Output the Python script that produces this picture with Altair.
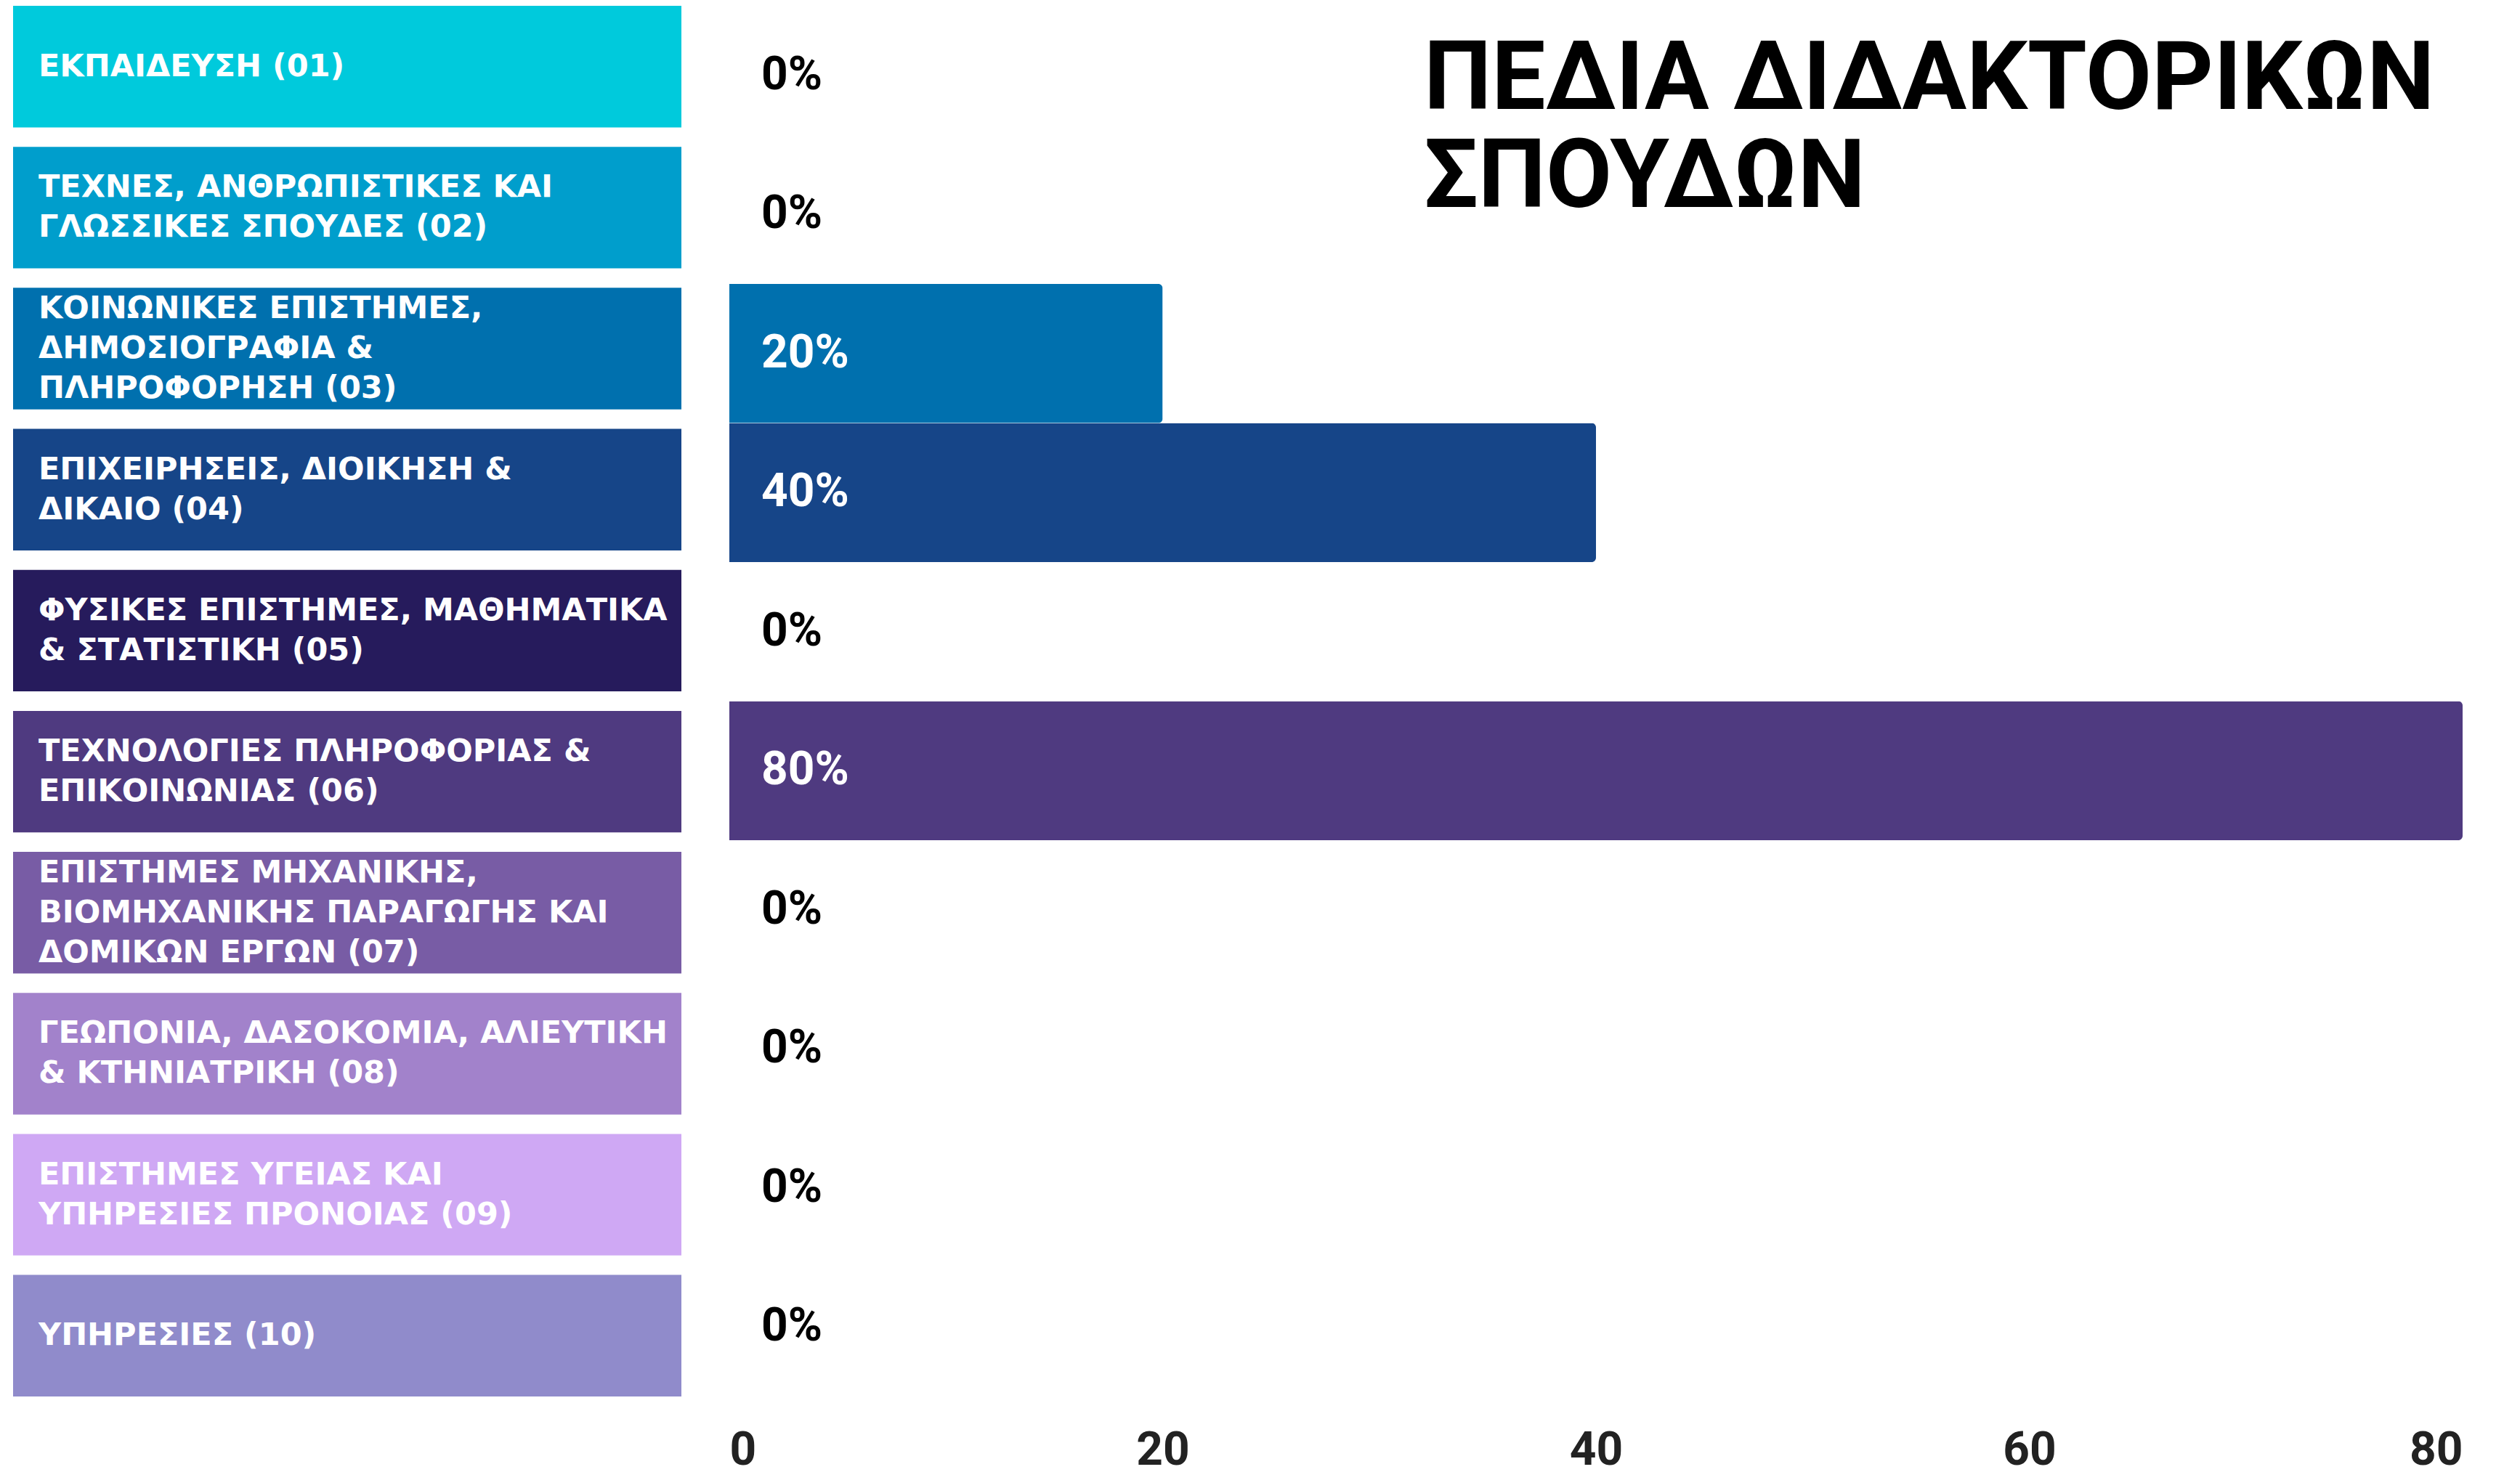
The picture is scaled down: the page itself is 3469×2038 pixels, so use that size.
import altair as alt
import pandas as pd

codes = ["01", "02", "03", "04", "05", "06", "07", "08", "09", "10"]
labels = [
    ["ΕΚΠΑΙΔΕΥΣΗ (01)"],
    ["ΤΕΧΝΕΣ, ΑΝΘΡΩΠΙΣΤΙΚΕΣ ΚΑΙ", "ΓΛΩΣΣΙΚΕΣ ΣΠΟΥΔΕΣ (02)"],
    ["ΚΟΙΝΩΝΙΚΕΣ ΕΠΙΣΤΗΜΕΣ,", "ΔΗΜΟΣΙΟΓΡΑΦΙΑ &", "ΠΛΗΡΟΦΟΡΗΣΗ (03)"],
    ["ΕΠΙΧΕΙΡΗΣΕΙΣ, ΔΙΟΙΚΗΣΗ &", "ΔΙΚΑΙΟ (04)"],
    ["ΦΥΣΙΚΕΣ ΕΠΙΣΤΗΜΕΣ, ΜΑΘΗΜΑΤΙΚΑ", "& ΣΤΑΤΙΣΤΙΚΗ (05)"],
    ["ΤΕΧΝΟΛΟΓΙΕΣ ΠΛΗΡΟΦΟΡΙΑΣ &", "ΕΠΙΚΟΙΝΩΝΙΑΣ (06)"],
    ["ΕΠΙΣΤΗΜΕΣ ΜΗΧΑΝΙΚΗΣ,", "ΒΙΟΜΗΧΑΝΙΚΗΣ ΠΑΡΑΓΩΓΗΣ ΚΑΙ", "ΔΟΜΙΚΩΝ ΕΡΓΩΝ (07)"],
    ["ΓΕΩΠΟΝΙΑ, ΔΑΣΟΚΟΜΙΑ, ΑΛΙΕΥΤΙΚΗ", "& ΚΤΗΝΙΑΤΡΙΚΗ (08)"],
    ["ΕΠΙΣΤΗΜΕΣ ΥΓΕΙΑΣ ΚΑΙ", "ΥΠΗΡΕΣΙΕΣ ΠΡΟΝΟΙΑΣ (09)"],
    ["ΥΠΗΡΕΣΙΕΣ (10)"],
]
values = [0, 0, 20, 40, 0, 80, 0, 0, 0, 0]
colors = ["#00CADC", "#009ECC", "#0070AE", "#164588", "#261B5C",
          "#4F3A80", "#785CA5", "#A282CB", "#CFA8F4", "#908BCB"]
title_lines = ["ΠΕΔΙΑ ΔΙΔΑΚΤΟΡΙΚΩΝ", "ΣΠΟΥΔΩΝ"]
x_ticks = [0, 20, 40, 60, 80]

NUMFONT = "Roboto"
LINE_H = 55

df = pd.DataFrame({"code": codes, "value": values})

# one row per text line of each category label; 'pos' = line position relative to the
# middle of its block, in half-line units (-2, -1, 0, 1, 2)
line_rows = []
for c, lines in zip(codes, labels):
    n = len(lines)
    for i, t in enumerate(lines):
        line_rows.append({"code": c, "line": t, "pos": 2 * i - (n - 1)})
lines_df = pd.DataFrame(line_rows)

H = 1915
color_scale = alt.Scale(domain=codes, range=colors)

# Left panel: coloured label boxes
y_left = alt.Y("code:N", sort=codes, axis=None,
               scale=alt.Scale(paddingInner=0.138, paddingOuter=0))
x_left_scale = alt.Scale(domain=[0, 1], nice=False)

boxes = alt.Chart(df).transform_calculate(box0="0", box1="1").mark_bar(
    orient="horizontal"
).encode(
    x=alt.X("box0:Q", axis=None, scale=x_left_scale),
    x2="box1:Q",
    y=y_left,
    color=alt.Color("code:N", scale=color_scale, legend=None),
)

text_layers = []
for p in [-2, -1, 0, 1, 2]:
    text_layers.append(
        alt.Chart(lines_df).transform_filter(f"datum.pos == {p}").transform_calculate(
            box0="0"
        ).mark_text(
            align="left", baseline="middle", dx=35, dy=p * LINE_H / 2,
            font="DejaVu Sans", fontWeight="bold", fontSize=43, color="white",
        ).encode(
            x=alt.X("box0:Q", axis=None, scale=x_left_scale),
            y=y_left,
            text="line:N",
        )
    )
left = alt.layer(boxes, *text_layers).properties(width=920, height=H)

# Right panel: bars
y_right = alt.Y("code:N", sort=codes, axis=None,
                scale=alt.Scale(paddingInner=0, paddingOuter=0))
x_right = alt.X(
    "value:Q",
    scale=alt.Scale(domain=[0, 80], nice=False),
    axis=alt.Axis(values=x_ticks, title=None, domain=False, ticks=False, grid=False,
                  labelFont=NUMFONT, labelFontSize=64, labelFontWeight="bold",
                  labelColor="#222222", labelPadding=42),
)
bars = alt.Chart(df).mark_bar(cornerRadiusEnd=6).encode(
    x=x_right,
    y=y_right,
    color=alt.Color("code:N", scale=color_scale, legend=None),
)
bar_text = alt.Chart(df).transform_calculate(
    pct="datum.value + '%'"
).mark_text(
    align="left", baseline="middle", dx=44, font=NUMFONT, fontWeight="bold", fontSize=64,
).encode(
    x=alt.datum(0),
    y=y_right,
    text="pct:N",
    color=alt.condition("datum.value > 0", alt.value("white"), alt.value("black")),
)
title = alt.Chart(pd.DataFrame({"t": ["\n".join(title_lines)]})).mark_text(
    align="left", baseline="alphabetic", lineBreak="\n", lineHeight=135,
    font="Roboto", fontWeight="bold", fontSize=132, color="black",
).encode(
    x=alt.value(956),
    y=alt.value(142),
    text="t:N",
)
right = alt.layer(bars, bar_text, title).properties(width=2386, height=H)

chart = alt.hconcat(left, right, spacing=66).resolve_scale(
    x="independent", y="independent", color="independent"
).properties(
    padding={"left": 10, "top": 0, "right": 5, "bottom": 4}
).configure(background="white").configure_view(stroke="transparent", strokeWidth=0)

chart.save("out.html", embed_options={"renderer": "svg", "actions": False})
